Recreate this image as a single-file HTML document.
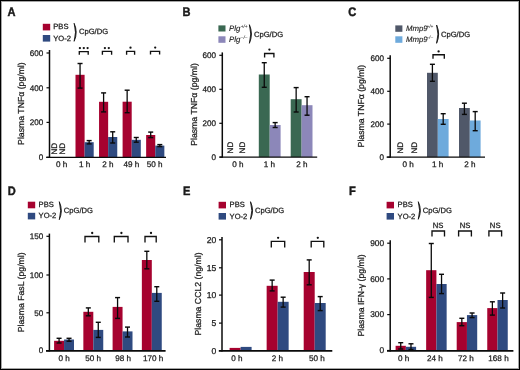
<!DOCTYPE html>
<html><head><meta charset="utf-8"><style>
html,body{margin:0;padding:0;background:#fff;}
body{width:520px;height:370px;overflow:hidden;position:relative;}
svg{position:absolute;left:0;top:0;}
text{text-rendering:geometricPrecision;font-family:"Liberation Sans",sans-serif;fill:#1a1a1a;stroke:#1a1a1a;stroke-width:0.25px;}
svg{will-change:transform;}
.frame{position:absolute;left:0;top:0;width:520px;height:370px;box-sizing:border-box;border:1px solid #000;box-shadow:inset 0 0 0 1px rgba(0,0,0,0.35);}
</style></head><body>
<svg width="520" height="370" viewBox="0 0 520 370">
<text transform="translate(7.40 15.70) scale(0.9 1)" x="0" y="0" font-size="12.3" font-weight="bold" style="stroke-width:0.45px">A</text>
<rect x="42.80" y="23.80" width="7.40" height="6.60" fill="#A6022F"/>
<rect x="42.80" y="35.00" width="7.40" height="6.60" fill="#2F4A80"/>
<text x="53.30" y="29.45" font-size="7.6" text-anchor="start" font-weight="normal" font-style="normal" >PBS</text>
<text x="53.30" y="40.65" font-size="7.6" text-anchor="start" font-weight="normal" font-style="normal" >YO-2</text>
<path d="M74.15 23.30Q78.25 32.30 74.15 41.30Q76.85 32.30 74.15 23.30Z" fill="#111" stroke="#111" stroke-width="0.85" stroke-linejoin="round"/>
<text x="79.00" y="34.30" font-size="7.6" text-anchor="start" font-weight="normal" font-style="normal" >CpG/DG</text>
<line x1="49.50" y1="50.00" x2="49.50" y2="157.90" stroke="#0a0a0a" stroke-width="1.5"/>
<line x1="46.50" y1="53.00" x2="49.50" y2="53.00" stroke="#0a0a0a" stroke-width="1.2"/>
<text x="43.20" y="55.75" font-size="8.1" text-anchor="end" font-weight="normal" font-style="normal" >600</text>
<line x1="46.50" y1="87.80" x2="49.50" y2="87.80" stroke="#0a0a0a" stroke-width="1.2"/>
<text x="43.20" y="90.55" font-size="8.1" text-anchor="end" font-weight="normal" font-style="normal" >400</text>
<line x1="46.50" y1="122.40" x2="49.50" y2="122.40" stroke="#0a0a0a" stroke-width="1.2"/>
<text x="43.20" y="125.15" font-size="8.1" text-anchor="end" font-weight="normal" font-style="normal" >200</text>
<line x1="46.50" y1="157.30" x2="49.50" y2="157.30" stroke="#0a0a0a" stroke-width="1.2"/>
<text x="43.20" y="160.05" font-size="8.1" text-anchor="end" font-weight="normal" font-style="normal" >0</text>
<text transform="translate(23.50 103.60) rotate(-90)" x="0" y="0" font-size="8.7" text-anchor="middle">Plasma TNF&#945; (pg/ml)</text>
<rect x="75.50" y="74.80" width="9.10" height="82.50" fill="#A6022F"/>
<rect x="84.60" y="142.20" width="9.10" height="15.10" fill="#2F4A80"/>
<line x1="80.05" y1="63.50" x2="80.05" y2="88.10" stroke="#0a0a0a" stroke-width="1.3"/>
<line x1="77.55" y1="63.50" x2="82.55" y2="63.50" stroke="#0a0a0a" stroke-width="1.4300000000000002"/>
<line x1="77.55" y1="88.10" x2="82.55" y2="88.10" stroke="#0a0a0a" stroke-width="1.4300000000000002"/>
<line x1="89.15" y1="140.60" x2="89.15" y2="143.90" stroke="#0a0a0a" stroke-width="1.3"/>
<line x1="86.65" y1="140.60" x2="91.65" y2="140.60" stroke="#0a0a0a" stroke-width="1.4300000000000002"/>
<line x1="86.65" y1="143.90" x2="91.65" y2="143.90" stroke="#0a0a0a" stroke-width="1.4300000000000002"/>
<rect x="99.05" y="101.80" width="9.10" height="55.50" fill="#A6022F"/>
<rect x="108.15" y="137.00" width="9.10" height="20.30" fill="#2F4A80"/>
<line x1="103.60" y1="92.90" x2="103.60" y2="111.90" stroke="#0a0a0a" stroke-width="1.3"/>
<line x1="101.10" y1="92.90" x2="106.10" y2="92.90" stroke="#0a0a0a" stroke-width="1.4300000000000002"/>
<line x1="101.10" y1="111.90" x2="106.10" y2="111.90" stroke="#0a0a0a" stroke-width="1.4300000000000002"/>
<line x1="112.70" y1="131.80" x2="112.70" y2="143.00" stroke="#0a0a0a" stroke-width="1.3"/>
<line x1="110.20" y1="131.80" x2="115.20" y2="131.80" stroke="#0a0a0a" stroke-width="1.4300000000000002"/>
<line x1="110.20" y1="143.00" x2="115.20" y2="143.00" stroke="#0a0a0a" stroke-width="1.4300000000000002"/>
<rect x="122.60" y="101.70" width="9.10" height="55.60" fill="#A6022F"/>
<rect x="131.70" y="139.80" width="9.10" height="17.50" fill="#2F4A80"/>
<line x1="127.15" y1="90.20" x2="127.15" y2="112.70" stroke="#0a0a0a" stroke-width="1.3"/>
<line x1="124.65" y1="90.20" x2="129.65" y2="90.20" stroke="#0a0a0a" stroke-width="1.4300000000000002"/>
<line x1="124.65" y1="112.70" x2="129.65" y2="112.70" stroke="#0a0a0a" stroke-width="1.4300000000000002"/>
<line x1="136.25" y1="137.50" x2="136.25" y2="142.20" stroke="#0a0a0a" stroke-width="1.3"/>
<line x1="133.75" y1="137.50" x2="138.75" y2="137.50" stroke="#0a0a0a" stroke-width="1.4300000000000002"/>
<line x1="133.75" y1="142.20" x2="138.75" y2="142.20" stroke="#0a0a0a" stroke-width="1.4300000000000002"/>
<rect x="146.15" y="135.00" width="9.10" height="22.30" fill="#A6022F"/>
<rect x="155.25" y="145.60" width="9.10" height="11.70" fill="#2F4A80"/>
<line x1="150.70" y1="132.10" x2="150.70" y2="137.60" stroke="#0a0a0a" stroke-width="1.3"/>
<line x1="148.20" y1="132.10" x2="153.20" y2="132.10" stroke="#0a0a0a" stroke-width="1.4300000000000002"/>
<line x1="148.20" y1="137.60" x2="153.20" y2="137.60" stroke="#0a0a0a" stroke-width="1.4300000000000002"/>
<line x1="159.80" y1="144.60" x2="159.80" y2="146.60" stroke="#0a0a0a" stroke-width="1.3"/>
<line x1="157.30" y1="144.60" x2="162.30" y2="144.60" stroke="#0a0a0a" stroke-width="1.4300000000000002"/>
<line x1="157.30" y1="146.60" x2="162.30" y2="146.60" stroke="#0a0a0a" stroke-width="1.4300000000000002"/>
<text transform="translate(57.20 148.70) rotate(-90)" x="0" y="0" font-size="8.1" text-anchor="middle">ND</text>
<text transform="translate(65.00 148.70) rotate(-90)" x="0" y="0" font-size="8.1" text-anchor="middle">ND</text>
<text x="61.70" y="167.40" font-size="8.15" text-anchor="middle" font-weight="normal" font-style="normal" >0 h</text>
<text x="84.60" y="167.40" font-size="8.15" text-anchor="middle" font-weight="normal" font-style="normal" >1 h</text>
<text x="108.00" y="167.40" font-size="8.15" text-anchor="middle" font-weight="normal" font-style="normal" >2 h</text>
<text x="131.30" y="167.40" font-size="8.15" text-anchor="middle" font-weight="normal" font-style="normal" >49 h</text>
<text x="154.60" y="167.40" font-size="8.15" text-anchor="middle" font-weight="normal" font-style="normal" >50 h</text>
<path d="M79.30 54.70V51.60H88.20V54.70" fill="none" stroke="#111" stroke-width="1.35"/>
<circle cx="79.90" cy="48.10" r="1.15" fill="#111"/>
<circle cx="83.80" cy="48.10" r="1.15" fill="#111"/>
<circle cx="87.60" cy="48.10" r="1.15" fill="#111"/>
<path d="M102.40 54.70V51.40H111.60V54.70" fill="none" stroke="#111" stroke-width="1.35"/>
<circle cx="104.90" cy="48.10" r="1.15" fill="#111"/>
<circle cx="108.80" cy="48.10" r="1.15" fill="#111"/>
<path d="M126.60 54.70V51.40H134.60V54.70" fill="none" stroke="#111" stroke-width="1.35"/>
<circle cx="130.50" cy="47.70" r="1.15" fill="#111"/>
<path d="M150.50 54.60V51.40H159.60V54.60" fill="none" stroke="#111" stroke-width="1.35"/>
<circle cx="155.20" cy="47.60" r="1.15" fill="#111"/>
<text transform="translate(182.50 15.70) scale(0.9 1)" x="0" y="0" font-size="12.3" font-weight="bold" style="stroke-width:0.45px">B</text>
<rect x="218.40" y="25.40" width="7.10" height="6.10" fill="#3A6852"/>
<rect x="218.40" y="36.30" width="7.10" height="6.50" fill="#8C87B9"/>
<text x="229.10" y="30.70" font-size="7.8" text-anchor="start" font-weight="normal" font-style="italic" style="stroke-width:0.12px">Plg</text>
<text x="240.80" y="28.00" font-size="4.7" text-anchor="start" font-weight="normal" font-style="italic" style="stroke-width:0.05px">+/+</text>
<text x="229.10" y="41.60" font-size="7.8" text-anchor="start" font-weight="normal" font-style="italic" style="stroke-width:0.12px">Plg</text>
<text x="240.80" y="38.90" font-size="4.7" text-anchor="start" font-weight="normal" font-style="italic" style="stroke-width:0.05px">&#8211;/&#8211;</text>
<path d="M249.40 24.70Q253.50 34.00 249.40 43.30Q252.10 34.00 249.40 24.70Z" fill="#111" stroke="#111" stroke-width="0.85" stroke-linejoin="round"/>
<text x="254.00" y="36.80" font-size="7.6" text-anchor="start" font-weight="normal" font-style="normal" >CpG/DG</text>
<line x1="222.30" y1="52.40" x2="222.30" y2="157.70" stroke="#0a0a0a" stroke-width="1.5"/>
<line x1="219.30" y1="55.30" x2="222.30" y2="55.30" stroke="#0a0a0a" stroke-width="1.2"/>
<text x="216.00" y="58.05" font-size="8.1" text-anchor="end" font-weight="normal" font-style="normal" >600</text>
<line x1="219.30" y1="89.30" x2="222.30" y2="89.30" stroke="#0a0a0a" stroke-width="1.2"/>
<text x="216.00" y="92.05" font-size="8.1" text-anchor="end" font-weight="normal" font-style="normal" >400</text>
<line x1="219.30" y1="123.30" x2="222.30" y2="123.30" stroke="#0a0a0a" stroke-width="1.2"/>
<text x="216.00" y="126.05" font-size="8.1" text-anchor="end" font-weight="normal" font-style="normal" >200</text>
<line x1="219.30" y1="157.10" x2="222.30" y2="157.10" stroke="#0a0a0a" stroke-width="1.2"/>
<text x="216.00" y="159.85" font-size="8.1" text-anchor="end" font-weight="normal" font-style="normal" >0</text>
<text transform="translate(196.50 104.50) rotate(-90)" x="0" y="0" font-size="8.7" text-anchor="middle">Plasma TNF&#945; (pg/ml)</text>
<rect x="258.80" y="74.50" width="10.90" height="82.60" fill="#3A6852"/>
<rect x="269.70" y="125.00" width="10.90" height="32.10" fill="#8C87B9"/>
<line x1="264.25" y1="62.70" x2="264.25" y2="87.30" stroke="#0a0a0a" stroke-width="1.3"/>
<line x1="261.75" y1="62.70" x2="266.75" y2="62.70" stroke="#0a0a0a" stroke-width="1.4300000000000002"/>
<line x1="261.75" y1="87.30" x2="266.75" y2="87.30" stroke="#0a0a0a" stroke-width="1.4300000000000002"/>
<line x1="275.15" y1="122.60" x2="275.15" y2="127.50" stroke="#0a0a0a" stroke-width="1.3"/>
<line x1="272.65" y1="122.60" x2="277.65" y2="122.60" stroke="#0a0a0a" stroke-width="1.4300000000000002"/>
<line x1="272.65" y1="127.50" x2="277.65" y2="127.50" stroke="#0a0a0a" stroke-width="1.4300000000000002"/>
<rect x="290.70" y="99.20" width="10.90" height="57.90" fill="#3A6852"/>
<rect x="301.60" y="105.20" width="10.90" height="51.90" fill="#8C87B9"/>
<line x1="296.15" y1="87.60" x2="296.15" y2="112.00" stroke="#0a0a0a" stroke-width="1.3"/>
<line x1="293.65" y1="87.60" x2="298.65" y2="87.60" stroke="#0a0a0a" stroke-width="1.4300000000000002"/>
<line x1="293.65" y1="112.00" x2="298.65" y2="112.00" stroke="#0a0a0a" stroke-width="1.4300000000000002"/>
<line x1="307.05" y1="96.70" x2="307.05" y2="115.20" stroke="#0a0a0a" stroke-width="1.3"/>
<line x1="304.55" y1="96.70" x2="309.55" y2="96.70" stroke="#0a0a0a" stroke-width="1.4300000000000002"/>
<line x1="304.55" y1="115.20" x2="309.55" y2="115.20" stroke="#0a0a0a" stroke-width="1.4300000000000002"/>
<text transform="translate(233.30 147.60) rotate(-90)" x="0" y="0" font-size="8.1" text-anchor="middle">ND</text>
<text transform="translate(245.20 147.60) rotate(-90)" x="0" y="0" font-size="8.1" text-anchor="middle">ND</text>
<text x="237.80" y="167.40" font-size="8.15" text-anchor="middle" font-weight="normal" font-style="normal" >0 h</text>
<text x="269.50" y="167.40" font-size="8.15" text-anchor="middle" font-weight="normal" font-style="normal" >1 h</text>
<text x="301.80" y="167.40" font-size="8.15" text-anchor="middle" font-weight="normal" font-style="normal" >2 h</text>
<path d="M264.60 57.40V53.50H273.90V57.40" fill="none" stroke="#111" stroke-width="1.35"/>
<circle cx="269.40" cy="49.60" r="1.15" fill="#111"/>
<text transform="translate(348.30 15.90) scale(0.9 1)" x="0" y="0" font-size="12.3" font-weight="bold" style="stroke-width:0.45px">C</text>
<rect x="395.30" y="25.40" width="7.10" height="6.40" fill="#505869"/>
<rect x="395.30" y="36.30" width="7.10" height="6.50" fill="#6EAADC"/>
<text x="406.00" y="30.70" font-size="7.8" text-anchor="start" font-weight="normal" font-style="italic" style="stroke-width:0.12px">Mmp9</text>
<text x="426.50" y="28.00" font-size="4.7" text-anchor="start" font-weight="normal" font-style="italic" style="stroke-width:0.05px">+/+</text>
<text x="406.00" y="41.60" font-size="7.8" text-anchor="start" font-weight="normal" font-style="italic" style="stroke-width:0.12px">Mmp9</text>
<text x="426.50" y="38.90" font-size="4.7" text-anchor="start" font-weight="normal" font-style="italic" style="stroke-width:0.05px">&#8211;/&#8211;</text>
<path d="M436.60 25.00Q440.70 34.15 436.60 43.30Q439.30 34.15 436.60 25.00Z" fill="#111" stroke="#111" stroke-width="0.85" stroke-linejoin="round"/>
<text x="441.00" y="37.00" font-size="7.6" text-anchor="start" font-weight="normal" font-style="normal" >CpG/DG</text>
<line x1="390.20" y1="55.20" x2="390.20" y2="157.70" stroke="#0a0a0a" stroke-width="1.5"/>
<line x1="387.20" y1="58.30" x2="390.20" y2="58.30" stroke="#0a0a0a" stroke-width="1.2"/>
<text x="384.00" y="61.05" font-size="8.1" text-anchor="end" font-weight="normal" font-style="normal" >600</text>
<line x1="387.20" y1="91.30" x2="390.20" y2="91.30" stroke="#0a0a0a" stroke-width="1.2"/>
<text x="384.00" y="94.05" font-size="8.1" text-anchor="end" font-weight="normal" font-style="normal" >400</text>
<line x1="387.20" y1="124.10" x2="390.20" y2="124.10" stroke="#0a0a0a" stroke-width="1.2"/>
<text x="384.00" y="126.85" font-size="8.1" text-anchor="end" font-weight="normal" font-style="normal" >200</text>
<line x1="387.20" y1="157.10" x2="390.20" y2="157.10" stroke="#0a0a0a" stroke-width="1.2"/>
<text x="384.00" y="159.85" font-size="8.1" text-anchor="end" font-weight="normal" font-style="normal" >0</text>
<text transform="translate(364.40 106.10) rotate(-90)" x="0" y="0" font-size="8.7" text-anchor="middle">Plasma TNF&#945; (pg/ml)</text>
<rect x="427.00" y="72.80" width="10.80" height="84.30" fill="#505869"/>
<rect x="437.80" y="119.00" width="10.80" height="38.10" fill="#6EAADC"/>
<line x1="432.40" y1="64.30" x2="432.40" y2="81.30" stroke="#0a0a0a" stroke-width="1.3"/>
<line x1="429.90" y1="64.30" x2="434.90" y2="64.30" stroke="#0a0a0a" stroke-width="1.4300000000000002"/>
<line x1="429.90" y1="81.30" x2="434.90" y2="81.30" stroke="#0a0a0a" stroke-width="1.4300000000000002"/>
<line x1="443.20" y1="113.70" x2="443.20" y2="124.30" stroke="#0a0a0a" stroke-width="1.3"/>
<line x1="440.70" y1="113.70" x2="445.70" y2="113.70" stroke="#0a0a0a" stroke-width="1.4300000000000002"/>
<line x1="440.70" y1="124.30" x2="445.70" y2="124.30" stroke="#0a0a0a" stroke-width="1.4300000000000002"/>
<rect x="459.00" y="108.00" width="10.80" height="49.10" fill="#505869"/>
<rect x="469.80" y="120.50" width="10.80" height="36.60" fill="#6EAADC"/>
<line x1="464.40" y1="103.20" x2="464.40" y2="114.40" stroke="#0a0a0a" stroke-width="1.3"/>
<line x1="461.90" y1="103.20" x2="466.90" y2="103.20" stroke="#0a0a0a" stroke-width="1.4300000000000002"/>
<line x1="461.90" y1="114.40" x2="466.90" y2="114.40" stroke="#0a0a0a" stroke-width="1.4300000000000002"/>
<line x1="475.20" y1="111.60" x2="475.20" y2="130.70" stroke="#0a0a0a" stroke-width="1.3"/>
<line x1="472.70" y1="111.60" x2="477.70" y2="111.60" stroke="#0a0a0a" stroke-width="1.4300000000000002"/>
<line x1="472.70" y1="130.70" x2="477.70" y2="130.70" stroke="#0a0a0a" stroke-width="1.4300000000000002"/>
<text transform="translate(403.00 147.70) rotate(-90)" x="0" y="0" font-size="8.1" text-anchor="middle">ND</text>
<text transform="translate(416.50 147.70) rotate(-90)" x="0" y="0" font-size="8.1" text-anchor="middle">ND</text>
<text x="408.20" y="167.40" font-size="8.15" text-anchor="middle" font-weight="normal" font-style="normal" >0 h</text>
<text x="437.60" y="167.40" font-size="8.15" text-anchor="middle" font-weight="normal" font-style="normal" >1 h</text>
<text x="469.80" y="167.40" font-size="8.15" text-anchor="middle" font-weight="normal" font-style="normal" >2 h</text>
<path d="M433.00 58.80V54.70H444.30V58.80" fill="none" stroke="#111" stroke-width="1.35"/>
<circle cx="438.60" cy="51.40" r="1.15" fill="#111"/>
<text transform="translate(7.80 194.90) scale(0.9 1)" x="0" y="0" font-size="12.3" font-weight="bold" style="stroke-width:0.45px">D</text>
<rect x="27.80" y="201.70" width="7.40" height="6.60" fill="#A6022F"/>
<rect x="27.80" y="212.80" width="7.40" height="6.60" fill="#2F4A80"/>
<text x="38.60" y="207.35" font-size="7.6" text-anchor="start" font-weight="normal" font-style="normal" >PBS</text>
<text x="38.60" y="218.45" font-size="7.6" text-anchor="start" font-weight="normal" font-style="normal" >YO-2</text>
<path d="M59.30 201.70Q63.40 210.70 59.30 219.70Q62.00 210.70 59.30 201.70Z" fill="#111" stroke="#111" stroke-width="0.85" stroke-linejoin="round"/>
<text x="63.80" y="212.90" font-size="7.6" text-anchor="start" font-weight="normal" font-style="normal" >CpG/DG</text>
<line x1="49.40" y1="233.60" x2="49.40" y2="351.50" stroke="#0a0a0a" stroke-width="1.5"/>
<line x1="46.40" y1="236.30" x2="49.40" y2="236.30" stroke="#0a0a0a" stroke-width="1.2"/>
<text x="43.20" y="239.05" font-size="8.1" text-anchor="end" font-weight="normal" font-style="normal" >150</text>
<line x1="46.40" y1="275.00" x2="49.40" y2="275.00" stroke="#0a0a0a" stroke-width="1.2"/>
<text x="43.20" y="277.75" font-size="8.1" text-anchor="end" font-weight="normal" font-style="normal" >100</text>
<line x1="46.40" y1="312.80" x2="49.40" y2="312.80" stroke="#0a0a0a" stroke-width="1.2"/>
<text x="43.20" y="315.55" font-size="8.1" text-anchor="end" font-weight="normal" font-style="normal" >50</text>
<line x1="46.40" y1="350.70" x2="49.40" y2="350.70" stroke="#0a0a0a" stroke-width="1.2"/>
<text x="43.20" y="353.45" font-size="8.1" text-anchor="end" font-weight="normal" font-style="normal" >0</text>
<text transform="translate(24.00 292.30) rotate(-90)" x="0" y="0" font-size="8.7" text-anchor="middle">Plasma FasL (pg/ml)</text>
<rect x="54.10" y="340.80" width="9.95" height="10.10" fill="#A6022F"/>
<rect x="64.05" y="339.50" width="9.95" height="11.40" fill="#2F4A80"/>
<line x1="59.08" y1="338.30" x2="59.08" y2="343.00" stroke="#0a0a0a" stroke-width="1.3"/>
<line x1="56.58" y1="338.30" x2="61.58" y2="338.30" stroke="#0a0a0a" stroke-width="1.4300000000000002"/>
<line x1="56.58" y1="343.00" x2="61.58" y2="343.00" stroke="#0a0a0a" stroke-width="1.4300000000000002"/>
<line x1="69.03" y1="338.30" x2="69.03" y2="341.20" stroke="#0a0a0a" stroke-width="1.3"/>
<line x1="66.53" y1="338.30" x2="71.53" y2="338.30" stroke="#0a0a0a" stroke-width="1.4300000000000002"/>
<line x1="66.53" y1="341.20" x2="71.53" y2="341.20" stroke="#0a0a0a" stroke-width="1.4300000000000002"/>
<rect x="83.35" y="311.80" width="9.95" height="39.10" fill="#A6022F"/>
<rect x="93.30" y="329.90" width="9.95" height="21.00" fill="#2F4A80"/>
<line x1="88.32" y1="307.90" x2="88.32" y2="315.80" stroke="#0a0a0a" stroke-width="1.3"/>
<line x1="85.82" y1="307.90" x2="90.82" y2="307.90" stroke="#0a0a0a" stroke-width="1.4300000000000002"/>
<line x1="85.82" y1="315.80" x2="90.82" y2="315.80" stroke="#0a0a0a" stroke-width="1.4300000000000002"/>
<line x1="98.27" y1="322.30" x2="98.27" y2="337.40" stroke="#0a0a0a" stroke-width="1.3"/>
<line x1="95.77" y1="322.30" x2="100.77" y2="322.30" stroke="#0a0a0a" stroke-width="1.4300000000000002"/>
<line x1="95.77" y1="337.40" x2="100.77" y2="337.40" stroke="#0a0a0a" stroke-width="1.4300000000000002"/>
<rect x="112.60" y="306.90" width="9.95" height="44.00" fill="#A6022F"/>
<rect x="122.55" y="331.40" width="9.95" height="19.50" fill="#2F4A80"/>
<line x1="117.57" y1="297.60" x2="117.57" y2="318.40" stroke="#0a0a0a" stroke-width="1.3"/>
<line x1="115.07" y1="297.60" x2="120.07" y2="297.60" stroke="#0a0a0a" stroke-width="1.4300000000000002"/>
<line x1="115.07" y1="318.40" x2="120.07" y2="318.40" stroke="#0a0a0a" stroke-width="1.4300000000000002"/>
<line x1="127.52" y1="327.10" x2="127.52" y2="337.00" stroke="#0a0a0a" stroke-width="1.3"/>
<line x1="125.02" y1="327.10" x2="130.02" y2="327.10" stroke="#0a0a0a" stroke-width="1.4300000000000002"/>
<line x1="125.02" y1="337.00" x2="130.02" y2="337.00" stroke="#0a0a0a" stroke-width="1.4300000000000002"/>
<rect x="141.85" y="260.00" width="9.95" height="90.90" fill="#A6022F"/>
<rect x="151.80" y="292.90" width="9.95" height="58.00" fill="#2F4A80"/>
<line x1="146.82" y1="251.30" x2="146.82" y2="268.80" stroke="#0a0a0a" stroke-width="1.3"/>
<line x1="144.32" y1="251.30" x2="149.32" y2="251.30" stroke="#0a0a0a" stroke-width="1.4300000000000002"/>
<line x1="144.32" y1="268.80" x2="149.32" y2="268.80" stroke="#0a0a0a" stroke-width="1.4300000000000002"/>
<line x1="156.78" y1="286.70" x2="156.78" y2="301.30" stroke="#0a0a0a" stroke-width="1.3"/>
<line x1="154.28" y1="286.70" x2="159.28" y2="286.70" stroke="#0a0a0a" stroke-width="1.4300000000000002"/>
<line x1="154.28" y1="301.30" x2="159.28" y2="301.30" stroke="#0a0a0a" stroke-width="1.4300000000000002"/>
<text x="64.20" y="361.30" font-size="8.15" text-anchor="middle" font-weight="normal" font-style="normal" >0 h</text>
<text x="93.10" y="361.30" font-size="8.15" text-anchor="middle" font-weight="normal" font-style="normal" >50 h</text>
<text x="123.10" y="361.30" font-size="8.15" text-anchor="middle" font-weight="normal" font-style="normal" >98 h</text>
<text x="153.10" y="361.30" font-size="8.15" text-anchor="middle" font-weight="normal" font-style="normal" >170 h</text>
<path d="M85.00 242.40V236.50H98.80V242.40" fill="none" stroke="#111" stroke-width="1.35"/>
<circle cx="92.20" cy="233.00" r="1.15" fill="#111"/>
<path d="M114.30 242.40V236.50H128.00V242.40" fill="none" stroke="#111" stroke-width="1.35"/>
<circle cx="121.40" cy="233.00" r="1.15" fill="#111"/>
<path d="M145.00 242.40V236.50H156.20V242.40" fill="none" stroke="#111" stroke-width="1.35"/>
<circle cx="151.00" cy="233.00" r="1.15" fill="#111"/>
<text transform="translate(182.90 194.90) scale(0.9 1)" x="0" y="0" font-size="12.3" font-weight="bold" style="stroke-width:0.45px">E</text>
<rect x="218.60" y="201.80" width="7.40" height="6.60" fill="#A6022F"/>
<rect x="218.60" y="213.00" width="7.40" height="6.60" fill="#2F4A80"/>
<text x="229.60" y="207.45" font-size="7.6" text-anchor="start" font-weight="normal" font-style="normal" >PBS</text>
<text x="229.60" y="218.65" font-size="7.6" text-anchor="start" font-weight="normal" font-style="normal" >YO-2</text>
<path d="M250.50 201.70Q254.60 210.50 250.50 219.30Q253.20 210.50 250.50 201.70Z" fill="#111" stroke="#111" stroke-width="0.85" stroke-linejoin="round"/>
<text x="255.00" y="213.00" font-size="7.6" text-anchor="start" font-weight="normal" font-style="normal" >CpG/DG</text>
<line x1="222.00" y1="236.90" x2="222.00" y2="351.45" stroke="#0a0a0a" stroke-width="1.5"/>
<line x1="219.00" y1="239.80" x2="222.00" y2="239.80" stroke="#0a0a0a" stroke-width="1.2"/>
<text x="216.20" y="242.72" font-size="8.6" text-anchor="end" font-weight="normal" font-style="normal" >20</text>
<line x1="219.00" y1="267.80" x2="222.00" y2="267.80" stroke="#0a0a0a" stroke-width="1.2"/>
<text x="216.20" y="270.72" font-size="8.6" text-anchor="end" font-weight="normal" font-style="normal" >15</text>
<line x1="219.00" y1="295.10" x2="222.00" y2="295.10" stroke="#0a0a0a" stroke-width="1.2"/>
<text x="216.20" y="298.02" font-size="8.6" text-anchor="end" font-weight="normal" font-style="normal" >10</text>
<line x1="219.00" y1="323.10" x2="222.00" y2="323.10" stroke="#0a0a0a" stroke-width="1.2"/>
<text x="216.20" y="326.02" font-size="8.6" text-anchor="end" font-weight="normal" font-style="normal" >5</text>
<line x1="219.00" y1="350.60" x2="222.00" y2="350.60" stroke="#0a0a0a" stroke-width="1.2"/>
<text x="216.20" y="353.52" font-size="8.6" text-anchor="end" font-weight="normal" font-style="normal" >0</text>
<text transform="translate(201.30 294.00) rotate(-90)" x="0" y="0" font-size="8.7" text-anchor="middle">Plasma CCL2 (ng/ml)</text>
<rect x="229.60" y="347.90" width="11.00" height="2.95" fill="#A6022F"/>
<rect x="240.60" y="346.90" width="11.00" height="3.95" fill="#2F4A80"/>
<rect x="266.65" y="285.80" width="11.00" height="65.05" fill="#A6022F"/>
<rect x="277.65" y="301.80" width="11.00" height="49.05" fill="#2F4A80"/>
<line x1="272.15" y1="280.10" x2="272.15" y2="290.90" stroke="#0a0a0a" stroke-width="1.3"/>
<line x1="269.65" y1="280.10" x2="274.65" y2="280.10" stroke="#0a0a0a" stroke-width="1.4300000000000002"/>
<line x1="269.65" y1="290.90" x2="274.65" y2="290.90" stroke="#0a0a0a" stroke-width="1.4300000000000002"/>
<line x1="283.15" y1="297.20" x2="283.15" y2="307.10" stroke="#0a0a0a" stroke-width="1.3"/>
<line x1="280.65" y1="297.20" x2="285.65" y2="297.20" stroke="#0a0a0a" stroke-width="1.4300000000000002"/>
<line x1="280.65" y1="307.10" x2="285.65" y2="307.10" stroke="#0a0a0a" stroke-width="1.4300000000000002"/>
<rect x="303.70" y="272.00" width="11.00" height="78.85" fill="#A6022F"/>
<rect x="314.70" y="303.00" width="11.00" height="47.85" fill="#2F4A80"/>
<line x1="309.20" y1="259.90" x2="309.20" y2="284.80" stroke="#0a0a0a" stroke-width="1.3"/>
<line x1="306.70" y1="259.90" x2="311.70" y2="259.90" stroke="#0a0a0a" stroke-width="1.4300000000000002"/>
<line x1="306.70" y1="284.80" x2="311.70" y2="284.80" stroke="#0a0a0a" stroke-width="1.4300000000000002"/>
<line x1="320.20" y1="296.60" x2="320.20" y2="310.60" stroke="#0a0a0a" stroke-width="1.3"/>
<line x1="317.70" y1="296.60" x2="322.70" y2="296.60" stroke="#0a0a0a" stroke-width="1.4300000000000002"/>
<line x1="317.70" y1="310.60" x2="322.70" y2="310.60" stroke="#0a0a0a" stroke-width="1.4300000000000002"/>
<text x="237.00" y="361.30" font-size="8.15" text-anchor="middle" font-weight="normal" font-style="normal" >0 h</text>
<text x="277.30" y="361.30" font-size="8.15" text-anchor="middle" font-weight="normal" font-style="normal" >2 h</text>
<text x="317.00" y="361.30" font-size="8.15" text-anchor="middle" font-weight="normal" font-style="normal" >50 h</text>
<path d="M271.30 247.40V241.40H284.70V247.40" fill="none" stroke="#111" stroke-width="1.35"/>
<circle cx="278.10" cy="237.80" r="1.15" fill="#111"/>
<path d="M311.20 247.40V241.40H323.80V247.40" fill="none" stroke="#111" stroke-width="1.35"/>
<circle cx="317.80" cy="237.80" r="1.15" fill="#111"/>
<text transform="translate(349.00 194.90) scale(0.9 1)" x="0" y="0" font-size="12.3" font-weight="bold" style="stroke-width:0.45px">F</text>
<rect x="386.60" y="201.80" width="7.40" height="6.60" fill="#A6022F"/>
<rect x="386.60" y="213.00" width="7.40" height="6.60" fill="#2F4A80"/>
<text x="397.60" y="207.45" font-size="7.6" text-anchor="start" font-weight="normal" font-style="normal" >PBS</text>
<text x="397.60" y="218.65" font-size="7.6" text-anchor="start" font-weight="normal" font-style="normal" >YO-2</text>
<path d="M418.30 201.70Q422.40 210.50 418.30 219.30Q421.00 210.50 418.30 201.70Z" fill="#111" stroke="#111" stroke-width="0.85" stroke-linejoin="round"/>
<text x="422.70" y="213.00" font-size="7.6" text-anchor="start" font-weight="normal" font-style="normal" >CpG/DG</text>
<line x1="390.20" y1="240.20" x2="390.20" y2="351.50" stroke="#0a0a0a" stroke-width="1.5"/>
<line x1="387.20" y1="243.20" x2="390.20" y2="243.20" stroke="#0a0a0a" stroke-width="1.2"/>
<text x="384.20" y="246.06" font-size="8.4" text-anchor="end" font-weight="normal" font-style="normal" >900</text>
<line x1="387.20" y1="278.90" x2="390.20" y2="278.90" stroke="#0a0a0a" stroke-width="1.2"/>
<text x="384.20" y="281.76" font-size="8.4" text-anchor="end" font-weight="normal" font-style="normal" >600</text>
<line x1="387.20" y1="314.60" x2="390.20" y2="314.60" stroke="#0a0a0a" stroke-width="1.2"/>
<text x="384.20" y="317.46" font-size="8.4" text-anchor="end" font-weight="normal" font-style="normal" >300</text>
<line x1="387.20" y1="350.50" x2="390.20" y2="350.50" stroke="#0a0a0a" stroke-width="1.2"/>
<text x="384.20" y="353.36" font-size="8.4" text-anchor="end" font-weight="normal" font-style="normal" >0</text>
<text transform="translate(363.90 295.40) rotate(-90)" x="0" y="0" font-size="8.7" text-anchor="middle">Plasma IFN-&#947; (pg/ml)</text>
<rect x="395.60" y="345.80" width="10.25" height="5.10" fill="#A6022F"/>
<rect x="405.85" y="346.80" width="10.25" height="4.10" fill="#2F4A80"/>
<line x1="400.73" y1="342.70" x2="400.73" y2="349.00" stroke="#0a0a0a" stroke-width="1.3"/>
<line x1="398.23" y1="342.70" x2="403.23" y2="342.70" stroke="#0a0a0a" stroke-width="1.4300000000000002"/>
<line x1="398.23" y1="349.00" x2="403.23" y2="349.00" stroke="#0a0a0a" stroke-width="1.4300000000000002"/>
<line x1="410.98" y1="343.80" x2="410.98" y2="349.60" stroke="#0a0a0a" stroke-width="1.3"/>
<line x1="408.48" y1="343.80" x2="413.48" y2="343.80" stroke="#0a0a0a" stroke-width="1.4300000000000002"/>
<line x1="408.48" y1="349.60" x2="413.48" y2="349.60" stroke="#0a0a0a" stroke-width="1.4300000000000002"/>
<rect x="426.15" y="270.20" width="10.25" height="80.70" fill="#A6022F"/>
<rect x="436.40" y="284.00" width="10.25" height="66.90" fill="#2F4A80"/>
<line x1="431.28" y1="243.50" x2="431.28" y2="297.40" stroke="#0a0a0a" stroke-width="1.3"/>
<line x1="428.78" y1="243.50" x2="433.78" y2="243.50" stroke="#0a0a0a" stroke-width="1.4300000000000002"/>
<line x1="428.78" y1="297.40" x2="433.78" y2="297.40" stroke="#0a0a0a" stroke-width="1.4300000000000002"/>
<line x1="441.53" y1="274.30" x2="441.53" y2="293.60" stroke="#0a0a0a" stroke-width="1.3"/>
<line x1="439.03" y1="274.30" x2="444.03" y2="274.30" stroke="#0a0a0a" stroke-width="1.4300000000000002"/>
<line x1="439.03" y1="293.60" x2="444.03" y2="293.60" stroke="#0a0a0a" stroke-width="1.4300000000000002"/>
<rect x="456.70" y="322.10" width="10.25" height="28.80" fill="#A6022F"/>
<rect x="466.95" y="315.10" width="10.25" height="35.80" fill="#2F4A80"/>
<line x1="461.83" y1="318.30" x2="461.83" y2="325.70" stroke="#0a0a0a" stroke-width="1.3"/>
<line x1="459.33" y1="318.30" x2="464.33" y2="318.30" stroke="#0a0a0a" stroke-width="1.4300000000000002"/>
<line x1="459.33" y1="325.70" x2="464.33" y2="325.70" stroke="#0a0a0a" stroke-width="1.4300000000000002"/>
<line x1="472.08" y1="313.00" x2="472.08" y2="317.60" stroke="#0a0a0a" stroke-width="1.3"/>
<line x1="469.58" y1="313.00" x2="474.58" y2="313.00" stroke="#0a0a0a" stroke-width="1.4300000000000002"/>
<line x1="469.58" y1="317.60" x2="474.58" y2="317.60" stroke="#0a0a0a" stroke-width="1.4300000000000002"/>
<rect x="487.25" y="308.10" width="10.25" height="42.80" fill="#A6022F"/>
<rect x="497.50" y="300.00" width="10.25" height="50.90" fill="#2F4A80"/>
<line x1="492.38" y1="301.80" x2="492.38" y2="315.10" stroke="#0a0a0a" stroke-width="1.3"/>
<line x1="489.88" y1="301.80" x2="494.88" y2="301.80" stroke="#0a0a0a" stroke-width="1.4300000000000002"/>
<line x1="489.88" y1="315.10" x2="494.88" y2="315.10" stroke="#0a0a0a" stroke-width="1.4300000000000002"/>
<line x1="502.62" y1="293.00" x2="502.62" y2="308.00" stroke="#0a0a0a" stroke-width="1.3"/>
<line x1="500.12" y1="293.00" x2="505.12" y2="293.00" stroke="#0a0a0a" stroke-width="1.4300000000000002"/>
<line x1="500.12" y1="308.00" x2="505.12" y2="308.00" stroke="#0a0a0a" stroke-width="1.4300000000000002"/>
<text x="403.60" y="361.30" font-size="8.15" text-anchor="middle" font-weight="normal" font-style="normal" >0 h</text>
<text x="435.00" y="361.30" font-size="8.15" text-anchor="middle" font-weight="normal" font-style="normal" >24 h</text>
<text x="465.80" y="361.30" font-size="8.15" text-anchor="middle" font-weight="normal" font-style="normal" >72 h</text>
<text x="498.50" y="361.30" font-size="8.15" text-anchor="middle" font-weight="normal" font-style="normal" >168 h</text>
<path d="M432.00 236.40V231.00H444.50V236.40" fill="none" stroke="#111" stroke-width="1.35"/>
<text x="438.10" y="227.90" font-size="7.7" text-anchor="middle" font-weight="normal" font-style="normal" >NS</text>
<path d="M458.60 236.40V231.00H471.40V236.40" fill="none" stroke="#111" stroke-width="1.35"/>
<text x="465.00" y="227.90" font-size="7.7" text-anchor="middle" font-weight="normal" font-style="normal" >NS</text>
<path d="M488.90 236.40V231.00H501.60V236.40" fill="none" stroke="#111" stroke-width="1.35"/>
<text x="495.20" y="227.90" font-size="7.7" text-anchor="middle" font-weight="normal" font-style="normal" >NS</text>
<line x1="46.20" y1="157.30" x2="166.00" y2="157.30" stroke="#0a0a0a" stroke-width="1.3"/>
<line x1="219.50" y1="157.10" x2="317.20" y2="157.10" stroke="#0a0a0a" stroke-width="1.3"/>
<line x1="386.60" y1="157.10" x2="485.00" y2="157.10" stroke="#0a0a0a" stroke-width="1.3"/>
<line x1="46.00" y1="350.90" x2="165.60" y2="350.90" stroke="#0a0a0a" stroke-width="1.6"/>
<line x1="218.80" y1="350.85" x2="332.30" y2="350.85" stroke="#0a0a0a" stroke-width="1.6"/>
<line x1="387.00" y1="350.90" x2="513.40" y2="350.90" stroke="#0a0a0a" stroke-width="1.6"/>
</svg>
<div class="frame"></div>
</body></html>
